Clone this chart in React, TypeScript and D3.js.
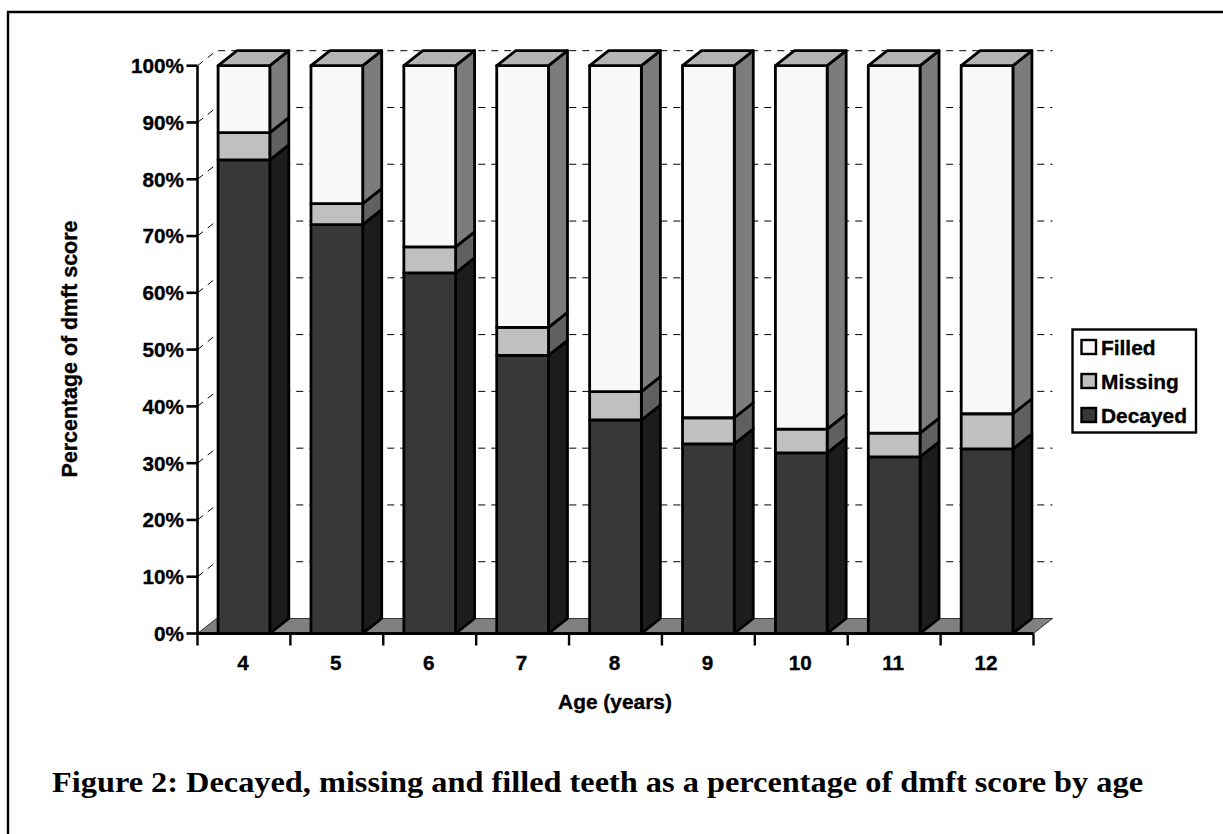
import React from "react";
import * as d3 from "d3";

const ages = ["4", "5", "6", "7", "8", "9", "10", "11", "12"];
const decayed = [83.4, 72.0, 63.5, 49.0, 37.6, 33.4, 31.8, 31.1, 32.5];
const missing = [4.8, 3.7, 4.6, 4.9, 5.0, 4.6, 4.2, 4.2, 6.2];
const filled = [11.8, 24.3, 31.9, 46.1, 57.4, 62.0, 64.0, 64.7, 61.3];
const seriesNames = ["Decayed", "Missing", "Filled"];
const yTicks = [0, 10, 20, 30, 40, 50, 60, 70, 80, 90, 100];
const frontColors = ["#383838", "#c0c0c0", "#f8f8f8"];
const sideColors = ["#1c1c1c", "#606060", "#7c7c7c"];
const topColor = "#b4b4b4";
const floorColor = "#808080";
const title = "Figure 2: Decayed, missing and filled teeth as a percentage of dmft score by age";

const X0 = 197.5, X1 = 1033.5, Y0 = 633.5, Y1 = 65.7, DX = 19, DY = 15;
const SANS = "'Liberation Sans', Arial, sans-serif";
const HEAVY = { stroke: "#000", strokeWidth: 0.35 };

export default function App() {
  const x = d3.scaleBand<string>().domain(ages).range([X0, X1]).paddingInner(0.443).paddingOuter(0.2215);
  const y = d3.scaleLinear().domain([0, 100]).range([Y0, Y1]);
  const rows = ages.map((a, i) => ({ age: a, Decayed: decayed[i], Missing: missing[i], Filled: filled[i] }));
  const stack = d3.stack<any>().keys(seriesNames)(rows);
  const bw = x.bandwidth();
  const poly = (p: [number, number][]) => (d3.line()(p) as string) + "Z";
  const legendOrder = [2, 1, 0];

  return (
    <svg width={1223} height={834} style={{ position: "absolute", left: 0, top: 0, display: "block", background: "#fff" }} fontFamily={SANS}>
      {/* page frame */}
      <path d="M8,834V12H1223" fill="none" stroke="#000" strokeWidth={2.4} />

      {/* wall gridlines */}
      {yTicks.filter((t) => t > 0).map((t) => (
        <path key={t} d={`M${X0},${y(t)}L${X0 + DX},${y(t) - DY}L${X1 + DX},${y(t) - DY}`} fill="none" stroke="#000" strokeWidth={1} strokeDasharray="7 6" />
      ))}

      {/* floor */}
      <path d={poly([[X0, Y0], [X0 + DX, Y0 - DY], [X1 + DX, Y0 - DY], [X1, Y0]])} fill={floorColor} stroke="#333" strokeWidth={1} />

      {/* bars */}
      {ages.map((a, i) => {
        const l = x(a) as number;
        const r = l + bw;
        return (
          <g key={a}>
            {stack.map((s, k) => {
              const top = y(s[i][1]);
              const bot = y(s[i][0]);
              return (
                <g key={k} stroke="#000" strokeWidth={2.8} strokeLinejoin="round">
                  <path d={poly([[r, top], [r + DX, top - DY], [r + DX, bot - DY], [r, bot]])} fill={sideColors[k]} />
                  <rect x={l} y={top} width={bw} height={bot - top} fill={frontColors[k]} />
                </g>
              );
            })}
            <path d={poly([[l, y(100)], [l + DX, y(100) - DY], [r + DX, y(100) - DY], [r, y(100)]])} fill={topColor} stroke="#000" strokeWidth={2.8} strokeLinejoin="round" />
          </g>
        );
      })}

      {/* y axis */}
      <path d={`M${X0},${Y1}V${Y0}`} stroke="#000" strokeWidth={2.6} fill="none" />
      {yTicks.map((t) => (
        <g key={t}>
          <line x1={X0 - 11} x2={X0} y1={y(t)} y2={y(t)} stroke="#000" strokeWidth={2.6} />
          <text x={184} y={y(t) + 7.4} textAnchor="end" fontSize={20.7} fontWeight={700} fill="#000" {...HEAVY}>{t}%</text>
        </g>
      ))}

      {/* x axis */}
      <path d={`M${X0},${Y0}H${X1}`} stroke="#000" strokeWidth={2.8} fill="none" />
      {d3.range(ages.length + 1).map((i) => {
        const px = X0 + (i * (X1 - X0)) / ages.length;
        return <line key={i} x1={px} x2={px} y1={Y0} y2={Y0 + 12} stroke="#000" strokeWidth={2.4} />;
      })}
      {ages.map((a) => (
        <text key={a} x={(x(a) as number) + bw / 2 - 1} y={670} textAnchor="middle" fontSize={20.7} fontWeight={700} fill="#000" {...HEAVY}>{a}</text>
      ))}

      {/* axis titles */}
      <text x={615} y={709} textAnchor="middle" fontSize={20.9} fontWeight={700} fill="#000" {...HEAVY}>Age (years)</text>
      <text transform="translate(77,349) rotate(-90)" textAnchor="middle" fontSize={21.4} fontWeight={700} fill="#000" {...HEAVY}>Percentage of dmft score</text>

      {/* legend */}
      <rect x={1072.5} y={329.5} width={123.5} height={103} fill="#fff" stroke="#000" strokeWidth={2.4} />
      {legendOrder.map((k, row) => {
        const top = 340 + row * 34;
        return (
          <g key={k}>
            <rect x={1081.5} y={top} width={14.5} height={14} fill={frontColors[k]} stroke="#000" strokeWidth={2.4} />
            <text x={1101} y={top + 15} fontSize={20.9} fontWeight={700} fill="#000" {...HEAVY}>{seriesNames[k]}</text>
          </g>
        );
      })}

      {/* caption */}
      <text x={52} y={791.5} fontFamily="'Liberation Serif', 'Times New Roman', serif" fontSize={30} fontWeight={700} fill="#000" textLength={1091} lengthAdjust="spacingAndGlyphs">{title}</text>
    </svg>
  );
}
